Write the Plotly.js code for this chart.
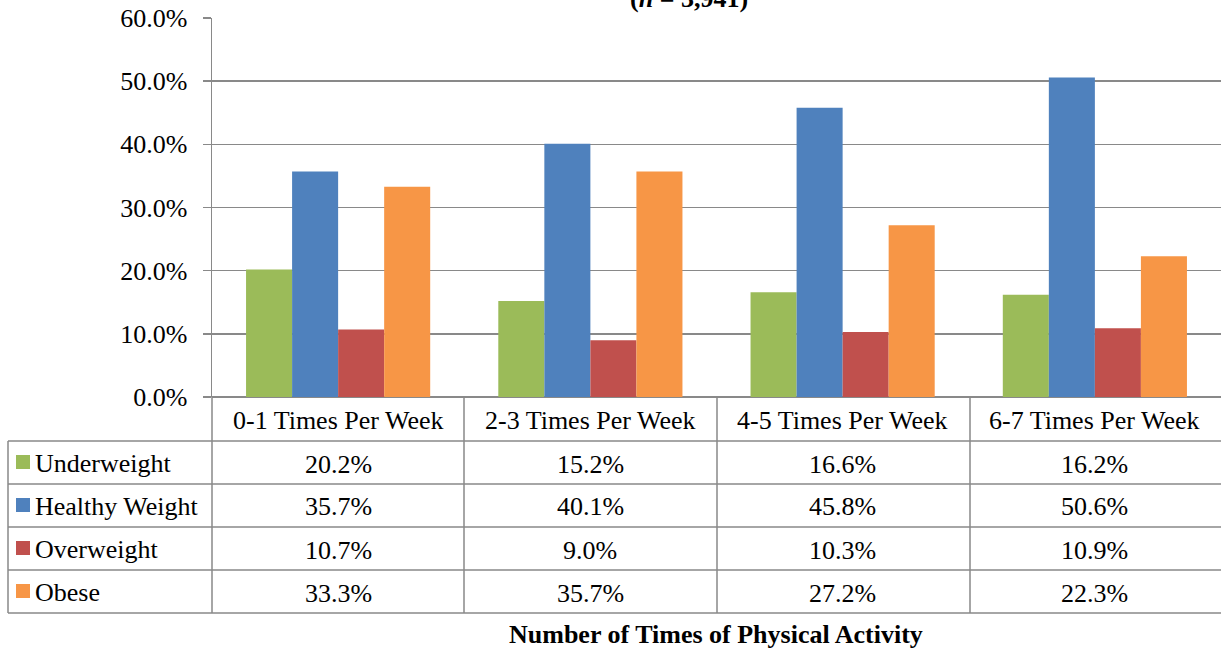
<!DOCTYPE html>
<html><head><meta charset="utf-8">
<script src="https://cdn.plot.ly/plotly-3.0.1.min.js"></script>
<style>html,body{margin:0;padding:0;background:#fff}#chart{width:1221px;height:649px}</style>
</head><body><div id="chart"></div>
<script>
const categories = ["0-1 Times Per Week","2-3 Times Per Week","4-5 Times Per Week","6-7 Times Per Week"];
const seriesNames = ["Underweight","Healthy Weight","Overweight","Obese"];
const underweight = [0.202,0.152,0.166,0.162];
const healthyWeight = [0.357,0.401,0.458,0.506];
const overweight = [0.107,0.090,0.103,0.109];
const obese = [0.333,0.357,0.272,0.223];
const colors = ["#9BBB59","#4F81BD","#C0504D","#F79646"];
const seriesValues = [underweight, healthyWeight, overweight, obese];

const W=1221,H=649,L=212,R=0,T=18,B=252;
const pw=W-L-R, ph=H-T-B;
const px = x => (x-L)/pw;
const py = y => (H-B-y)/ph;
const font = "Liberation Serif";
const fs = 26;
const gray = "#898989";

const traces = seriesNames.map((n,i)=>({
  type:'bar', name:n, x:categories, y:seriesValues[i],
  marker:{color:colors[i], line:{width:0}}, showlegend:false, hoverinfo:'skip'
}));

const shapes=[], annotations=[];
const rowLines=[441,484,527,570,613];
rowLines.forEach(y=>shapes.push({type:'line',xref:'paper',yref:'paper',x0:px(8),x1:px(1221),y0:py(y),y1:py(y),line:{color:gray,width:1.5}}));
[212,464,717,970].forEach(x=>shapes.push({type:'line',xref:'paper',yref:'paper',x0:px(x),x1:px(x),y0:py(397),y1:py(613),line:{color:gray,width:1.5}}));
shapes.push({type:'line',xref:'paper',yref:'paper',x0:px(8),x1:px(8),y0:py(441),y1:py(613),line:{color:gray,width:1.5}});

categories.forEach(c=>annotations.push({xref:'x',yref:'paper',x:c,y:py(420),text:c,showarrow:false,font:{family:font,size:fs,color:'#000'},xanchor:'center',yanchor:'middle'}));
const rowCenters=[463,506,549,592];
seriesNames.forEach((n,i)=>{
  shapes.push({type:'rect',xref:'paper',yref:'paper',x0:px(16),x1:px(30),y0:py(rowCenters[i]-8),y1:py(rowCenters[i]+6),fillcolor:colors[i],line:{width:0}});
  annotations.push({xref:'paper',yref:'paper',x:px(33),y:py(rowCenters[i]),text:n,showarrow:false,font:{family:font,size:fs,color:'#000'},xanchor:'left',yanchor:'middle'});
  categories.forEach((c,j)=>annotations.push({xref:'x',yref:'paper',x:c,y:py(rowCenters[i]+1),text:(seriesValues[i][j]*100).toFixed(1)+'%',showarrow:false,font:{family:font,size:fs,color:'#000'},xanchor:'center',yanchor:'middle'}));
});
annotations.push({xref:'paper',yref:'paper',x:px(716),y:py(634),text:'<b>Number of Times of Physical Activity</b>',showarrow:false,font:{family:font,size:fs,color:'#000'},xanchor:'center',yanchor:'middle'});
annotations.push({xref:'paper',yref:'paper',x:px(689),y:py(15),text:'<b>(<i>n</i> = 3,941)</b>',showarrow:false,font:{family:font,size:fs,color:'#000'},xanchor:'center',yanchor:'bottom'});

const layout={
  width:W,height:H,margin:{l:L,r:R,t:T,b:B},
  paper_bgcolor:'#fff',plot_bgcolor:'#fff',
  barmode:'group',bargap:0.27,bargroupgap:0,
  xaxis:{showticklabels:false,showgrid:false,zeroline:false,showline:false,ticks:''},
  yaxis:{range:[0,0.6],dtick:0.1,tickformat:'.1%',showgrid:true,gridcolor:gray,gridwidth:1.5,
    showline:true,linecolor:gray,linewidth:1.5,ticks:'outside',ticklen:8,tickcolor:gray,tickwidth:1.5,
    zeroline:true,zerolinecolor:gray,zerolinewidth:2,
    tickfont:{family:font,size:fs,color:'#000'},ticklabelstandoff:10},
  shapes,annotations
};
Plotly.newPlot('chart',traces,layout,{staticPlot:true});
</script></body></html>
